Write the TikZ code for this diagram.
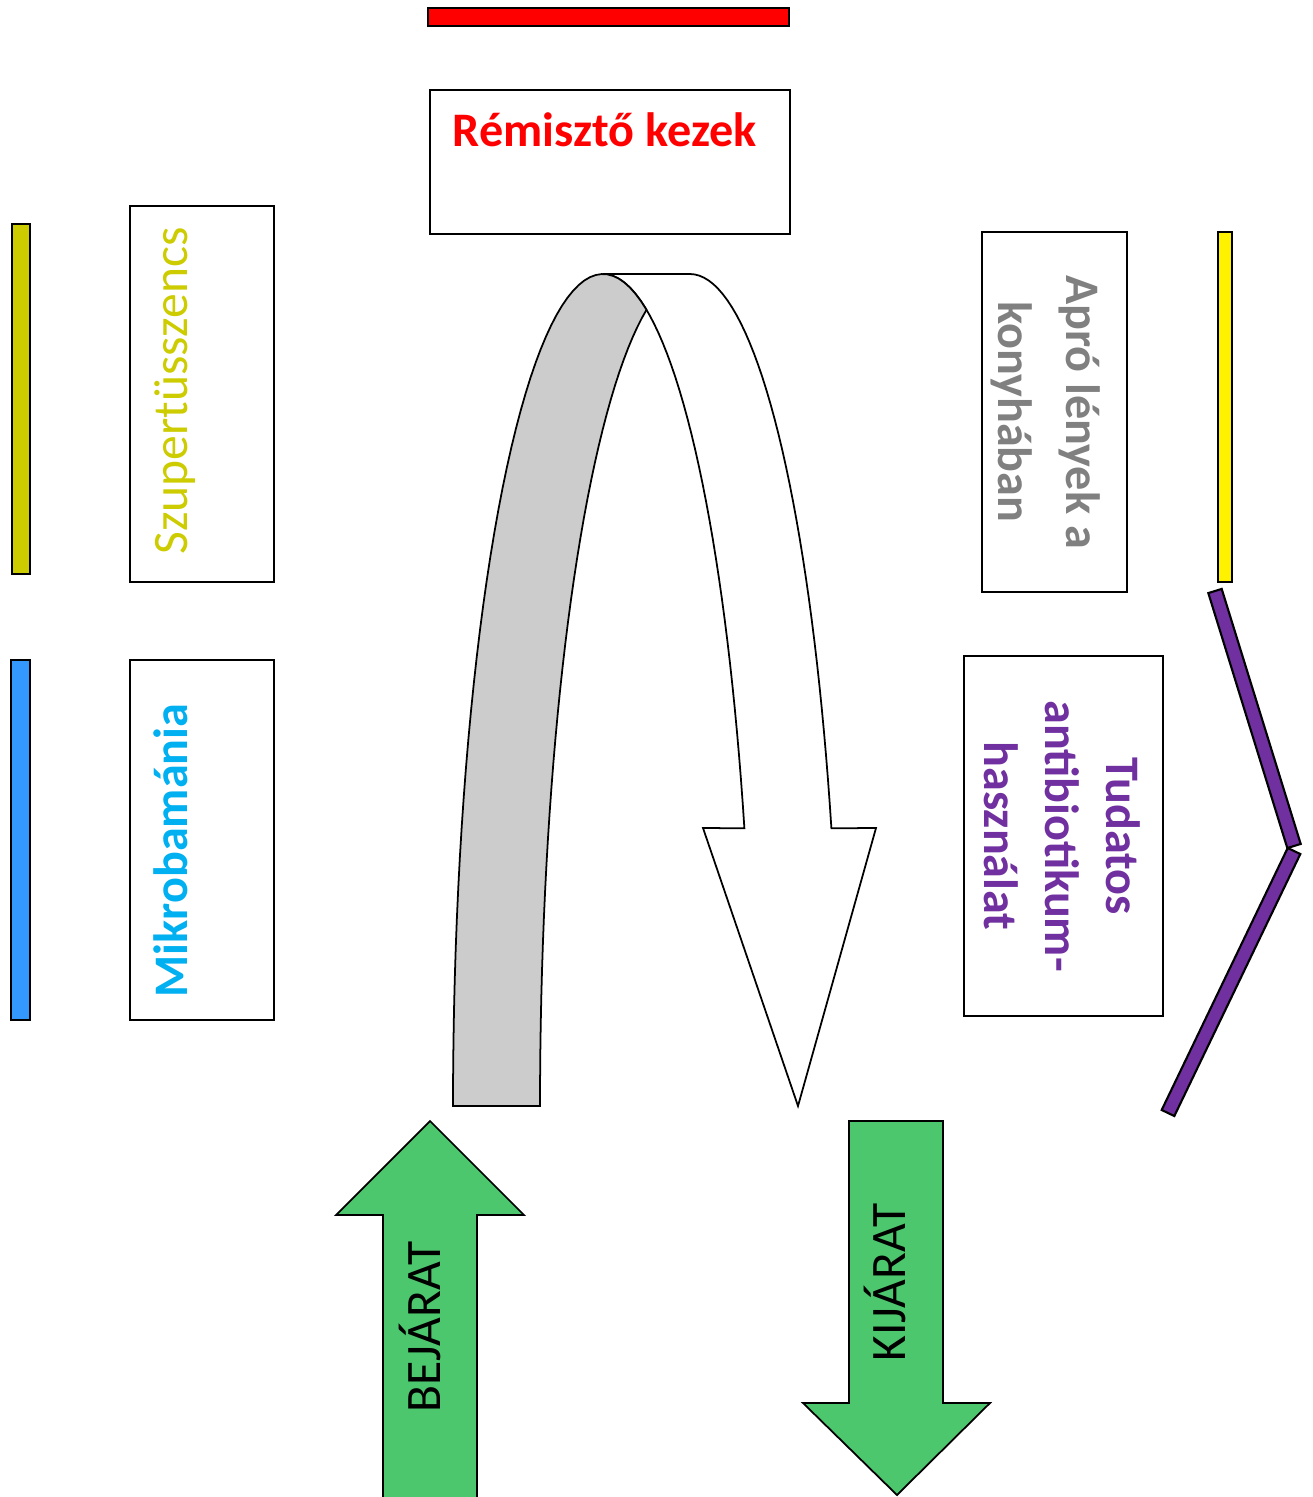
\documentclass[tikz,border=0pt]{standalone}
\usepackage{fontspec}
\setmainfont{Carlito}
\usepackage{tikz}
\usetikzlibrary{calc}

\definecolor{olive}{RGB}{204,204,0}
\definecolor{skyblue}{RGB}{51,153,255}
\definecolor{cyantext}{RGB}{0,176,240}
\definecolor{graytext}{RGB}{128,128,128}
\definecolor{violet}{RGB}{112,48,160}
\definecolor{arrowgreen}{RGB}{77,199,110}
\definecolor{ribbon}{RGB}{204,204,204}

\tikzset{
  box/.style={draw=black, line width=0.6pt, fill=white},
  bar/.style={draw=black, line width=0.6pt},
  label/.style={font=\fontsize{13.7}{16}\selectfont\bfseries, inner sep=0pt},
  plain/.style={font=\fontsize{14.1}{16}\selectfont, inner sep=0pt},
  bigarrow/.style={draw=black, line width=0.5pt, fill=arrowgreen}
}

\begin{document}
\begin{tikzpicture}[x=0.01cm, y=-0.01cm]
      \useasboundingbox (0,0) rectangle (1313,1497);

      % Top bar and title box
      \draw[bar, fill=red] (428,8) rectangle (789,26);
      \draw[box] (430,90) rectangle (790,234);
      \node[label, text=red, anchor=base west] (title) at (452,147) {Rémisztő kezek};

      % Left column
      \draw[bar, fill=olive] (12,224) rectangle (30,574);
      \draw[box] (130,206) rectangle (274,582);
      \node[plain, text=olive, rotate=90, anchor=base west] (szuper) at (187,555) {Szupertüsszencs};

      \draw[bar, fill=skyblue] (11,660) rectangle (30,1020);
      \draw[box] (130,660) rectangle (274,1020);
      \node[label, text=cyantext, rotate=90, anchor=base west] (mikro) at (187,998) {Mikrobamánia};

      % Right column
      \draw[box] (982,232) rectangle (1127,592);
      \node[label, text=graytext, rotate=-90, align=center,
            font=\fontsize{13.7}{19.3}\selectfont\bfseries] (apro) at (1046,412)
            {Apró lények a\\konyhában};
      \draw[bar, fill=yellow] (1218,232) rectangle (1232,582);

      \draw[box] (964,656) rectangle (1163,1016);
      \node[label, text=violet, rotate=-90, align=center,
            font=\fontsize{13.7}{17.4}\selectfont\bfseries] (tudatos) at (1062,836)
            {Tudatos\\antibiotikum-\\használat};

      % Purple chevron
      \coordinate (p1) at (1215,591);
      \coordinate (q1) at (1294,846);
      \coordinate (p2) at (1294,851);
      \coordinate (q2) at (1168,1113);
      \draw[bar, fill=violet] ($(p1)!0.07cm!90:(q1)$) -- ($(q1)!0.07cm!-90:(p1)$)
            -- ($(q1)!0.07cm!90:(p1)$) -- ($(p1)!0.07cm!-90:(q1)$) -- cycle;
      \draw[bar, fill=violet] ($(p2)!0.07cm!90:(q2)$) -- ($(q2)!0.07cm!-90:(p2)$)
            -- ($(q2)!0.07cm!90:(p2)$) -- ($(p2)!0.07cm!-90:(q2)$) -- cycle;

      % Curved U-turn arrow: front (white) part
      \draw[line width=0.5pt, fill=white]
            plot[domain=90:19.5, samples=40] ({603+150*cos(\x)},{1106-832*sin(\x)})
            -- (703,828) -- (798,1106) -- (876,828)
            -- plot[domain=19.5:90, samples=40] ({690+150*cos(\x)},{1106-832*sin(\x)})
            -- cycle;
      % Curved U-turn arrow: back (gray) part
      \draw[line width=0.5pt, fill=ribbon]
            plot[domain=180:73.14, samples=50] ({603+150*cos(\x)},{1106-832*sin(\x)})
            -- plot[domain=106.86:180, samples=40] ({690+150*cos(\x)},{1106-832*sin(\x)})
            -- cycle;

      % Entrance and exit arrows
      \draw[bigarrow] (383,1497) -- (383,1215) -- (336,1215) -- (430,1121)
            -- (524,1215) -- (477,1215) -- (477,1497);
      \node[plain, rotate=90, anchor=base west] (be) at (440,1413) {BEJÁRAT};

      \draw[bigarrow] (849,1121) -- (849,1403) -- (803,1403) -- (897,1495)
            -- (990,1403) -- (943,1403) -- (943,1121) -- cycle;
      \node[plain, rotate=90, anchor=base west] (ki) at (905,1362) {KIJÁRAT};
\end{tikzpicture}
\end{document}
